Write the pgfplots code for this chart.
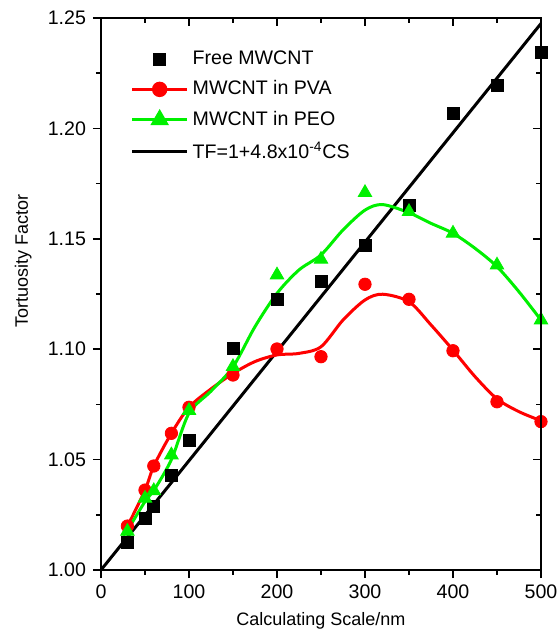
\documentclass[border=0pt]{standalone}
\usepackage{fontspec}
\setmainfont{Liberation Sans}
\usepackage{pgfplots}
\pgfplotsset{compat=1.18}
\definecolor{pgreen}{RGB}{0,240,0}

\pgfplotsset{
  base/.style={
    scale only axis, width=220pt, height=276pt,
    xmin=0, xmax=500, ymin=1.0, ymax=1.25,
    xtick={0,100,200,300,400,500}, minor xtick={50,150,250,350,450},
    ytick={1.00,1.05,1.10,1.15,1.20,1.25},
    minor ytick={1.025,1.075,1.125,1.175,1.225},
    major tick length=4pt, minor tick length=2.5pt,
    axis line style={line width=1pt},
    every tick/.style={black, line width=0.8pt},
    /pgf/number format/assume math mode=true,
  },
}

\begin{document}
\begin{tikzpicture}[font=\fontsize{9}{11}\selectfont]
\begin{axis}[
  base, name=main,
  tick align=outside, xtick pos=left, ytick pos=left,
  tick label style={font=\fontsize{9.8}{11}\selectfont},
  yticklabel style={/pgf/number format/.cd, fixed, fixed zerofill, precision=2},
  xlabel={Calculating Scale/nm}, ylabel={Tortuosity Factor},
  xlabel style={at={(axis description cs:0.5,-0.092)}, anchor=center},
  ylabel style={at={(axis description cs:-0.177,0.56)}, anchor=center},
  legend style={at={(0.062,0.952)}, anchor=north west, draw=none, fill=none,
    font=\fontsize{9.8}{11}\selectfont, row sep=2.6pt, inner sep=1pt},
  legend cell align=left,
  legend image code/.code={\draw[mark repeat=2, mark phase=2, #1]
    plot coordinates {(0pt,0pt) (13.75pt,0pt) (27.5pt,0pt)};},
]
% TF line
\addplot[black, line width=1.5pt, forget plot] coordinates {(0,1.0) (500,1.2475)};
% Free MWCNT
\addplot[only marks, mark=square*, mark size=3pt, black, forget plot] coordinates {
(30,1.0124) (50,1.0234) (60,1.0290) (80,1.0430) (100,1.0589) (150,1.1004)
(200,1.1226) (250,1.1306) (300,1.1472) (350,1.1652) (400,1.2070) (450,1.2197) (500,1.2346)};
% PVA curve
\addplot[red, line width=1.5pt, smooth, forget plot] coordinates {
(25,1.0180) (30,1.0199) (50,1.0362) (60,1.0471) (80,1.0619) (100,1.0737) (125,1.0820)
(150,1.0890) (175,1.0944) (200,1.0974) (225,1.0981) (250,1.1011) (275,1.1132)
(300,1.1223) (320,1.1249) (350,1.1215) (375,1.1110) (400,1.0996) (425,1.0876)
(450,1.0775) (475,1.0717) (500,1.0676)};
\addplot[only marks, mark=*, mark size=3.1pt, red, forget plot] coordinates {
(30,1.0199) (50,1.0362) (60,1.0471) (80,1.0619) (100,1.0737) (150,1.0883)
(200,1.1001) (250,1.0966) (300,1.1294) (350,1.1226) (400,1.0993) (450,1.0762) (500,1.0672)};
% PEO curve
\addplot[pgreen, line width=1.5pt, smooth, forget plot] coordinates {
(25,1.0159) (30,1.0180) (50,1.0310) (60,1.0360) (80,1.0500) (100,1.0710) (125,1.0810)
(150,1.0920) (175,1.1102) (200,1.1253) (225,1.1359) (250,1.1427) (275,1.1540)
(300,1.1630) (320,1.1655) (350,1.1618) (375,1.1570) (400,1.1525) (425,1.1457)
(450,1.1374) (475,1.1260) (500,1.1132)};
\addplot[only marks, mark=triangle*, mark size=3.9pt, pgreen, forget plot] coordinates {
(30,1.0175) (50,1.0325) (60,1.0359) (80,1.0521) (100,1.0722) (150,1.0921)
(200,1.1336) (250,1.1407) (300,1.1709) (350,1.1623) (400,1.1525) (450,1.1381) (500,1.1132)};

\addlegendimage{/tikz/only marks, mark=square*, mark size=3pt, black}
\addlegendentry{Free MWCNT}
\addlegendimage{red, line width=1.5pt, mark=*, mark size=3.1pt}
\addlegendentry{MWCNT in PVA}
\addlegendimage{pgreen, line width=1.5pt, mark=triangle*, mark size=3.9pt}
\addlegendentry{MWCNT in PEO}
\addlegendimage{black, line width=1.5pt}
\addlegendentry{TF=1+4.8x10\textsuperscript{-4}CS}
\end{axis}
\begin{axis}[
  base,
  tick align=inside, xtick pos=right, ytick pos=right,
  xticklabels={}, yticklabels={},
]
\end{axis}
\pgfresetboundingbox
\path ([shift={(-50.5pt,-31pt)}]main.south west) rectangle ([shift={(8pt,9pt)}]main.north east);
\end{tikzpicture}
\end{document}
